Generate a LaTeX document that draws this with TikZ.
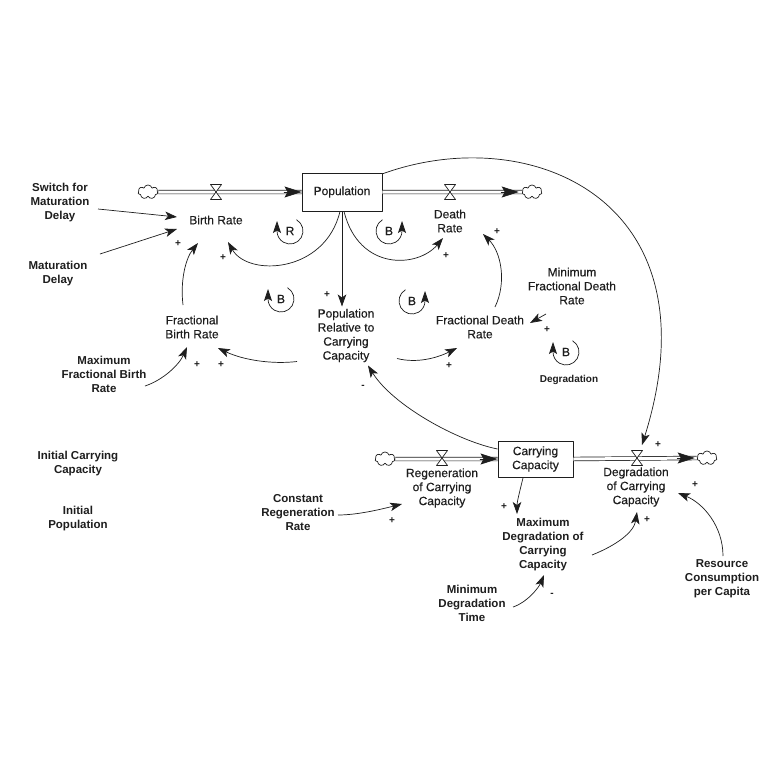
\documentclass[tikz,border=0pt]{standalone}
\usepackage{fontspec}
\setmainfont{Liberation Sans}
\newfontfamily\medfont[FakeBold=0.35]{Liberation Sans}
\usetikzlibrary{arrows.meta,shapes.symbols}
\definecolor{ink}{RGB}{30,30,30}
\begin{document}
\begin{tikzpicture}[x=1pt,y=-1pt,line join=round,
  lbl/.style={align=center,font=\medfont\fontsize{12}{14}\selectfont,inner sep=1pt,text=ink},
  cst/.style={align=center,font=\bfseries\fontsize{11.5}{14}\selectfont,inner sep=1pt,text=ink},
  stock/.style={draw=ink,line width=0.9pt,align=center,font=\medfont\fontsize{12}{14}\selectfont,text=ink,inner sep=0pt},
  pol/.style={font=\bfseries\fontsize{10}{10}\selectfont,inner sep=0pt,text=ink},
  lp/.style={font=\medfont\fontsize{12}{12}\selectfont,inner sep=0pt,text=ink},
  link/.style={draw=ink,line width=0.7pt,-{Stealth[length=12pt,width=8.5pt,inset=3pt]}},
  pipe/.style={draw=ink,line width=0.7pt,double=white,double distance=3pt},
  pipehead/.style={draw=ink,fill=ink,line width=0.7pt,-{Stealth[length=17pt,width=11pt,inset=3pt]}},
  cloudy/.style={cloud,cloud puffs=7,aspect=1.4,draw=ink,line width=0.7pt,minimum width=20pt,minimum height=14pt,inner sep=0pt,fill=white},
  loopline/.style={draw=ink,line width=0.7pt,-{Stealth[length=12pt,width=8pt,inset=2.5pt]}},
  valve/.pic={\draw[ink,line width=0.7pt,fill=white] (-5.5,-7.5) -- (5.5,-7.5) -- (-5.5,7.5) -- (5.5,7.5) -- cycle;}
]
\fill[white] (0,0) rectangle (774,774);
\useasboundingbox (0,0) rectangle (774,774);

% stocks
\node[stock,minimum width=80pt,minimum height=38pt] (pop) at (342,192) {Population};
\node[stock,minimum width=75pt,minimum height=36pt] (cc) at (535.5,459) {Carrying\\Capacity};

% clouds
\node[cloudy] (c1) at (148,192) {};
\node[cloudy] (c2) at (532,192) {};
\node[cloudy] (c3) at (385,459) {};
\node[cloudy] (c4) at (707,458) {};

% valves
\coordinate (vb) at (216,192);
\coordinate (vdth) at (450,192);
\coordinate (vr) at (442,458);
\coordinate (vd) at (637,458);

% pipes
\draw[pipe] (c1.east) -- (pop.west);
\draw[pipehead] ([shift={(-18,0)}]pop.west) -- (pop.west);
\draw[pipe] (pop.east) -- (c2.west);
\draw[pipehead] ([shift={(-21,0)}]c2.west) -- ([shift={(-3,0)}]c2.west);
\draw[pipe] (c3.east) -- (cc.west);
\draw[pipehead] ([shift={(-18,0)}]cc.west) -- (cc.west);
\draw[pipe] (cc.east) -- (c4.west);
\draw[pipehead] ([shift={(-20,0)}]c4.west) -- ([shift={(-2,0)}]c4.west);
\pic at (vb) {valve};
\pic at (vdth) {valve};
\pic at (vr) {valve};
\pic at (vd) {valve};

% labels
\node[lbl] (br) at (216,220) {Birth Rate};
\node[lbl] (dr) at (450,221) {Death\\Rate};
\node[lbl] (fbr) at (192,327) {Fractional\\Birth Rate};
\node[lbl] (prcc) at (346,335.5) {Population\\Relative to\\Carrying\\Capacity};
\node[lbl] (fdr) at (480,327) {Fractional Death\\Rate};
\node[lbl] (mfdr) at (572,286) {Minimum\\Fractional Death\\Rate};
\node[lbl] (reg) at (442,488) {Regeneration\\of Carrying\\Capacity};
\node[lbl] (dcc) at (636,487) {Degradation\\of Carrying\\Capacity};
\node[cst] (sw) at (60,203) {Switch for\\Maturation\\Delay};
\node[cst] (md) at (58,274) {Maturation\\Delay};
\node[cst] (mfbr) at (104,374) {Maximum\\Fractional Birth\\Rate};
\node[cst] (icc) at (78,464) {Initial Carrying\\Capacity};
\node[cst] (ip) at (78,519) {Initial\\Population};
\node[cst] (crr) at (298,513) {Constant\\Regeneration\\Rate};
\node[cst] (mdcc) at (543,545) {Maximum\\Degradation of\\Carrying\\Capacity};
\node[cst] (mdt) at (472,603) {Minimum\\Degradation\\Time};
\node[cst] (rcpc) at (722,579) {Resource\\Consumption\\per Capita};
\node[font=\bfseries\fontsize{10}{12}\selectfont,text=ink,inner sep=1pt] (degl) at (569,380) {Degradation};

% links
\draw[link] ([shift={(38,6)}]sw.center) -- ([shift={(-39,-3)}]br.center);
\draw[link] ([shift={(42,-20)}]md.center) -- ([shift={(-39,9)}]br.center);
\draw[link] ([shift={(-9,-22)}]fbr.center) .. controls +(-3,-25) and +(-12,15) .. ([shift={(-18,23)}]br.center);
\draw[link] ([shift={(-2,0)}]pop.south) .. controls +(-15,62) and +(20,35) .. ([shift={(12,22)}]br.center);
\draw[link] ([shift={(2,0)}]pop.south) .. controls +(15,60) and +(-25,30) .. ([shift={(-7,17)}]dr.center);
\draw[link] (pop.south) -- ([shift={(-4,-29)}]prcc.center);
\draw[link] ([shift={(15,-20)}]fdr.center) .. controls +(12,-25) and +(18,18) .. ([shift={(33,13)}]dr.center);
\draw[link] ([shift={(-26,28)}]mfdr.center) -- ([shift={(50,-4)}]fdr.center);
\draw[link] ([shift={(-49,26)}]prcc.center) .. controls +(-25,3) and +(25,12) .. ([shift={(26,21)}]fbr.center);
\draw[link] ([shift={(41,12)}]mfbr.center) .. controls +(18,-6) and +(-8,18) .. ([shift={(-5,20)}]fbr.center);
\draw[link] ([shift={(51,23)}]prcc.center) .. controls +(20,5) and +(-20,10) .. ([shift={(-23,21)}]fdr.center);
\draw[link] ([shift={(-38,-10)}]cc.center) .. controls +(-40,-8) and +(25,40) .. ([shift={(22,30)}]prcc.center);
\draw[link] ([shift={(40,-18)}]pop.center) .. controls +(148,-54) and +(77,-245) .. ([shift={(5,-13)}]vd);
\draw[link] ([shift={(40,2)}]crr.center) .. controls +(20,0) and +(-20,5) .. ([shift={(-40,16)}]reg.center);
\draw[link] ([shift={(-12.5,19)}]cc.center) .. controls +(-3,12) and +(0,-12) .. ([shift={(-26,-31)}]mdcc.center);
\draw[link] ([shift={(41,4)}]mdt.center) .. controls +(15,-5) and +(-5,12) .. ([shift={(1,30)}]mdcc.center);
\draw[link] ([shift={(49,10)}]mdcc.center) .. controls +(25,-10) and +(-3,20) .. ([shift={(1,25)}]dcc.center);
\draw[link] ([shift={(1,-23)}]rcpc.center) .. controls +(0,-30) and +(25,10) .. ([shift={(42,6)}]dcc.center);

% polarities
\node[pol] (s1) at (178,244) {+};
\node[pol] (s2) at (223,258) {+};
\node[pol] (s3) at (446,256) {+};
\node[pol] (s4) at (327,295) {+};
\node[pol] (s5) at (497,232) {+};
\node[pol] (s6) at (547,330) {+};
\node[pol] (s7) at (221,365) {+};
\node[pol] (s8) at (197,365) {+};
\node[pol] (s9) at (449,366) {+};
\node[pol] (s10) at (363,387) {-};
\node[pol] (s11) at (658,445) {+};
\node[pol] (s12) at (392,521) {+};
\node[pol] (s13) at (504,507) {+};
\node[pol] (s14) at (552,595) {-};
\node[pol] (s15) at (647,520) {+};
\node[pol] (s16) at (695,485) {+};

% loops
\node[lp] (lR) at (290,231) {R};
\draw[loopline] ([shift={(6.5,-11.26)}]lR.center) arc[start angle=-60,end angle=180,radius=13] -- ++(0,-10);
\node[lp] (lB1) at (389,231) {B};
\draw[loopline] ([shift={(-6.5,-11.26)}]lB1.center) arc[start angle=-120,end angle=-360,radius=13] -- ++(0,-10);
\node[lp] (lB2) at (281,299) {B};
\draw[loopline] ([shift={(6.5,-11.26)}]lB2.center) arc[start angle=-60,end angle=180,radius=13] -- ++(0,-10);
\node[lp] (lB3) at (412,301) {B};
\draw[loopline] ([shift={(-6.5,-11.26)}]lB3.center) arc[start angle=-120,end angle=-360,radius=13] -- ++(0,-10);
\node[lp] (lB4) at (566,352) {B};
\draw[loopline] ([shift={(6.5,-11.26)}]lB4.center) arc[start angle=-60,end angle=180,radius=13] -- ++(0,-10);
\end{tikzpicture}
\end{document}
